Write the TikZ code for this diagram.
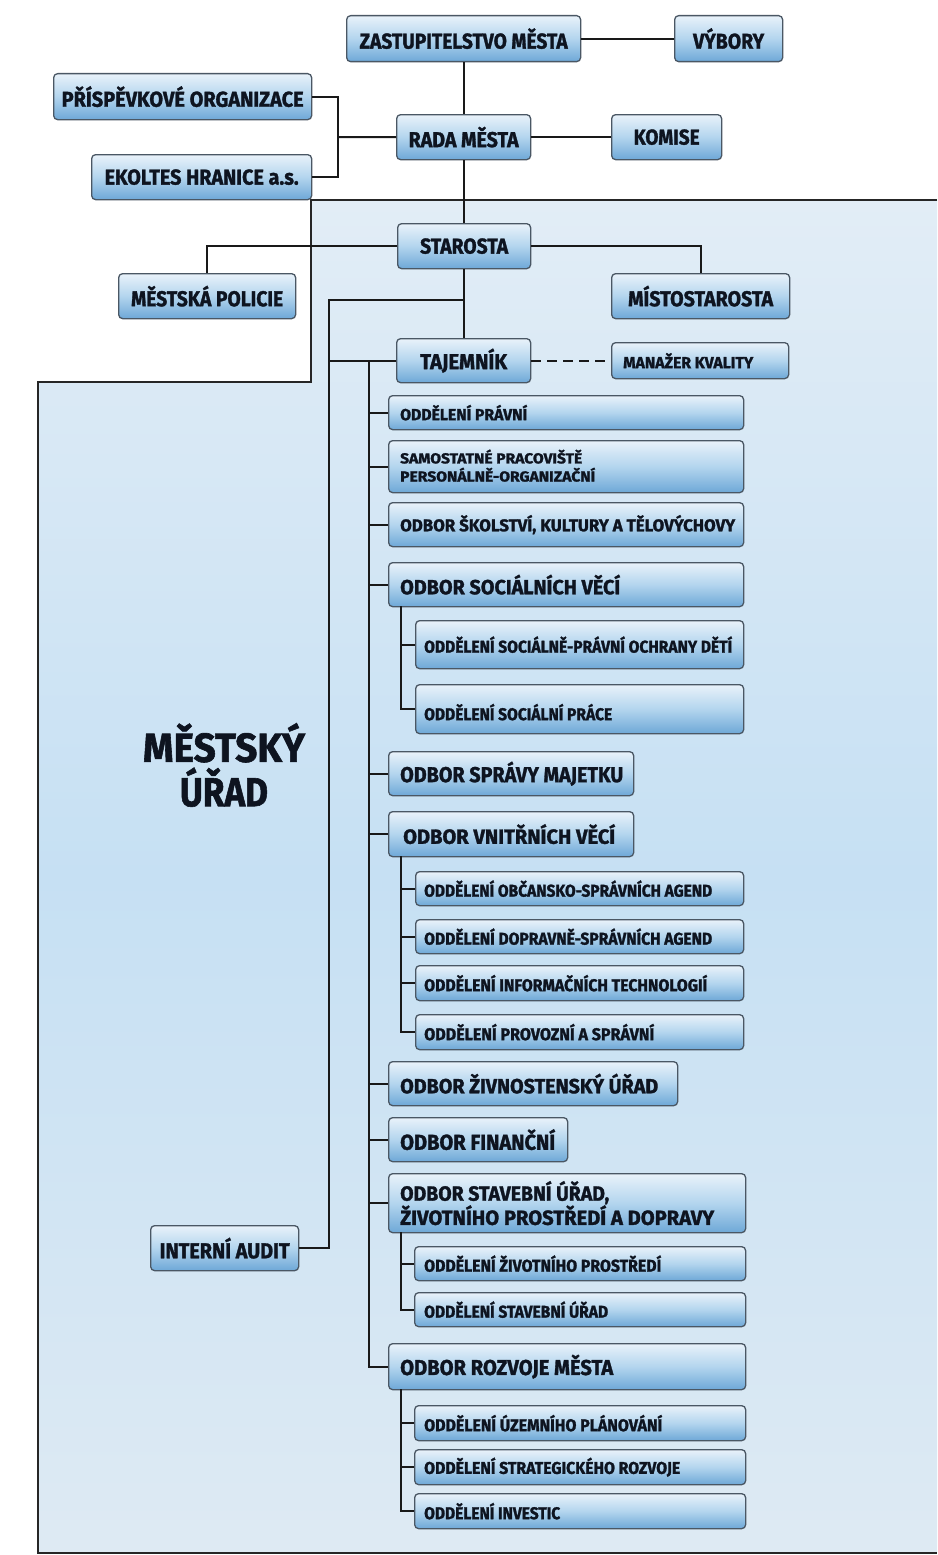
\documentclass[tikz,border=0pt]{standalone}
\usepackage{fontspec}
\usepackage{graphicx}
\setmainfont{Fira Sans}[BoldFeatures={FakeBold=1.5}]
\definecolor{boxline}{HTML}{4A5764}
\definecolor{boxtop}{HTML}{E9F2FA}
\definecolor{boxmid}{HTML}{B3D5EE}
\definecolor{boxbot}{HTML}{6EA8D7}
\definecolor{txtc}{HTML}{0E1420}
\definecolor{bgA}{HTML}{E2EDF6}
\definecolor{bgB}{HTML}{C6E0F3}
\definecolor{bgC}{HTML}{DEEAF3}
\newcommand{\lbl}[3]{\resizebox{#1pt}{\height}{\fontsize{#2}{#2}\selectfont\bfseries #3}}
\newcommand{\bx}[5]{\node[box, minimum width={(#4-#2)*1pt}, minimum height={(#5-#3)*1pt}] (#1) at (#2,#3) {};}
\begin{document}
\begin{tikzpicture}[x=1pt,y=-1pt,
  box/.style={draw=boxline, line width=1.3pt, rounded corners=4pt, top color=boxtop, bottom color=boxbot, middle color=boxmid, inner sep=0pt, anchor=north west},
  txt/.style={inner sep=0pt, text=txtc, align=left},
  conn/.style={draw=black!90, line width=2pt},
  border/.style={draw=black!85, line width=2pt}]
\useasboundingbox (0,0) rectangle (937,1555);
\fill[white] (0,0) rectangle (937,1555);
% office region
\shade[top color=bgA, bottom color=bgC, middle color=bgB] (937,200) -- (311,200) -- (311,382) -- (38,382) -- (38,1553) -- (937,1553) -- cycle;
\draw[border] (937,200) -- (311,200) -- (311,382) -- (38,382) -- (38,1553) -- (937,1553);

% top boxes
\bx{zast}{346}{15}{580}{61}
\node[txt] (zast-t) at (zast.center) {\lbl{208}{21.5}{ZASTUPITELSTVO MĚSTA}};
\bx{vyb}{674}{15}{782}{61}
\node[txt] (vyb-t) at (vyb.center) {\lbl{71}{21.5}{VÝBORY}};
\bx{prisp}{53}{73}{311}{119}
\node[txt] (prisp-t) at (prisp.center) {\lbl{242}{21.5}{PŘÍSPĚVKOVÉ ORGANIZACE}};
\bx{rada}{396}{114}{530}{159}
\node[txt] (rada-t) at (rada.center) {\lbl{110}{21.5}{RADA MĚSTA}};
\bx{kom}{611}{114}{721}{159}
\node[txt] (kom-t) at (kom.center) {\lbl{66}{21.5}{KOMISE}};
\bx{ekol}{91}{154}{311}{199}
\node[txt] (ekol-t) at (ekol.center) {\lbl{194}{21.5}{EKOLTES HRANICE a.s.}};
\bx{star}{397}{223}{530}{268}
\node[txt] (star-t) at (star.center) {\lbl{88}{21.5}{STAROSTA}};
\bx{pol}{118}{273}{295}{318}
\node[txt] (pol-t) at (pol.center) {\lbl{152}{21.5}{MĚSTSKÁ POLICIE}};
\bx{mist}{611}{273}{789}{318}
\node[txt] (mist-t) at (mist.center) {\lbl{145}{21.5}{MÍSTOSTAROSTA}};
\bx{taj}{396}{338}{530}{382}
\node[txt] (taj-t) at (taj.center) {\lbl{87}{21.5}{TAJEMNÍK}};
\bx{mk}{611}{342}{788}{378}
\node[txt, anchor=west] (mk-t) at ([xshift=12pt]mk.west) {\lbl{130}{16}{MANAŽER KVALITY}};

% departments
\bx{prav}{388}{395}{743}{429}
\node[txt, anchor=west] (prav-t) at ([xshift=12pt]prav.west) {\lbl{127}{16}{ODDĚLENÍ PRÁVNÍ}};
\bx{samo}{388}{440}{743}{492}
\node[txt, anchor=west] (samo-t) at ([xshift=12pt,yshift=1pt]samo.west) {\lbl{182}{14.5}{SAMOSTATNÉ PRACOVIŠTĚ}\\[3pt]\lbl{195}{14.5}{PERSONÁLNĚ-ORGANIZAČNÍ}};
\bx{skol}{388}{502}{743}{546}
\node[txt, anchor=west] (skol-t) at ([xshift=12pt]skol.west) {\lbl{335}{17}{ODBOR ŠKOLSTVÍ, KULTURY A TĚLOVÝCHOVY}};
\bx{soc}{388}{562}{743}{606}
\node[txt, anchor=west] (soc-t) at ([xshift=12pt]soc.west) {\lbl{220}{20.5}{ODBOR SOCIÁLNÍCH VĚCÍ}};
\bx{socpo}{415}{620}{743}{668}
\node[txt, anchor=west] (socpo-t) at ([xshift=9pt]socpo.west) {\lbl{308}{17}{ODDĚLENÍ SOCIÁLNĚ-PRÁVNÍ OCHRANY DĚTÍ}};
\bx{socpr}{415}{684}{743}{733}
\node[txt, anchor=west] (socpr-t) at ([xshift=9pt,yshift=-3pt]socpr.west) {\lbl{188}{17}{ODDĚLENÍ SOCIÁLNÍ PRÁCE}};
\bx{maj}{388}{751}{633}{795}
\node[txt, anchor=west] (maj-t) at ([xshift=12pt]maj.west) {\lbl{223}{21.5}{ODBOR SPRÁVY MAJETKU}};
\bx{vni}{388}{811}{633}{856}
\node[txt, anchor=west] (vni-t) at ([xshift=15pt]vni.west) {\lbl{212}{20.5}{ODBOR VNITŘNÍCH VĚCÍ}};
\bx{obc}{415}{871}{743}{905}
\node[txt, anchor=west] (obc-t) at ([xshift=9pt]obc.west) {\lbl{288}{17}{ODDĚLENÍ OBČANSKO-SPRÁVNÍCH AGEND}};
\bx{dop}{415}{919}{743}{953}
\node[txt, anchor=west] (dop-t) at ([xshift=9pt]dop.west) {\lbl{288}{17}{ODDĚLENÍ DOPRAVNĚ-SPRÁVNÍCH AGEND}};
\bx{inf}{415}{965}{743}{1000}
\node[txt, anchor=west] (inf-t) at ([xshift=9pt]inf.west) {\lbl{283}{17}{ODDĚLENÍ INFORMAČNÍCH TECHNOLOGIÍ}};
\bx{prov}{415}{1014}{743}{1049}
\node[txt, anchor=west] (prov-t) at ([xshift=9pt]prov.west) {\lbl{230}{17}{ODDĚLENÍ PROVOZNÍ A SPRÁVNÍ}};
\bx{ziv}{388}{1061}{677}{1105}
\node[txt, anchor=west] (ziv-t) at ([xshift=12pt]ziv.west) {\lbl{258}{20.5}{ODBOR ŽIVNOSTENSKÝ ÚŘAD}};
\bx{fin}{388}{1117}{567}{1161}
\node[txt, anchor=west] (fin-t) at ([xshift=12pt]fin.west) {\lbl{155}{21.5}{ODBOR FINANČNÍ}};
\bx{stav}{388}{1173}{745}{1232}
\node[txt, anchor=west] (stav-t) at ([xshift=12pt]stav.west) {\lbl{209}{20.5}{ODBOR STAVEBNÍ ÚŘAD,}\\[0pt]\lbl{314}{20.5}{ŽIVOTNÍHO PROSTŘEDÍ A DOPRAVY}};
\bx{zp}{414}{1246}{745}{1280}
\node[txt, anchor=west] (zp-t) at ([xshift=10pt]zp.west) {\lbl{237}{17}{ODDĚLENÍ ŽIVOTNÍHO PROSTŘEDÍ}};
\bx{su}{414}{1292}{745}{1326}
\node[txt, anchor=west] (su-t) at ([xshift=10pt]su.west) {\lbl{184}{17}{ODDĚLENÍ STAVEBNÍ ÚŘAD}};
\bx{roz}{388}{1343}{745}{1389}
\node[txt, anchor=west] (roz-t) at ([xshift=12pt]roz.west) {\lbl{213}{21.5}{ODBOR ROZVOJE MĚSTA}};
\bx{uz}{414}{1405}{745}{1440}
\node[txt, anchor=west] (uz-t) at ([xshift=10pt]uz.west) {\lbl{238}{17}{ODDĚLENÍ ÚZEMNÍHO PLÁNOVÁNÍ}};
\bx{strg}{414}{1449}{745}{1484}
\node[txt, anchor=west] (strg-t) at ([xshift=10pt]strg.west) {\lbl{256}{17}{ODDĚLENÍ STRATEGICKÉHO ROZVOJE}};
\bx{inv}{414}{1493}{745}{1528}
\node[txt, anchor=west] (inv-t) at ([xshift=10pt]inv.west) {\lbl{136}{17}{ODDĚLENÍ INVESTIC}};
\bx{audit}{150}{1225}{298}{1270}
\node[txt] (audit-t) at (audit.center) {\lbl{130}{21.5}{INTERNÍ AUDIT}};

% big label
\node[txt, align=center] (mu) at (224,765) {\lbl{162}{40.5}{MĚSTSKÝ}\\[4pt]\lbl{88}{40.5}{ÚŘAD}};

% connectors
\draw[conn] (zast.east) -- (vyb.west);
\draw[conn] (rada.north) -- (rada.north |- zast.south);
\draw[conn] (rada.east) -- (kom.west);
\coordinate (bk) at (338,137);
\draw[conn] (prisp.east) -| (bk) |- (ekol.east);
\draw[conn] (bk) -- (rada.west);
\draw[conn] (rada.south) -- (rada.south |- star.north);
\draw[conn] (star.west) -| (pol.north);
\draw[conn] (star.east) -| (mist.north);
\draw[conn] (star.south -| taj.north) -- (taj.north);
\coordinate (j1) at (463,300);
\coordinate (j2) at (329,300);
\draw[conn] (j1) -- (j2) |- (audit.east);
\draw[conn] (taj.west) -- (taj.west -| j2);
\draw[conn, dash pattern=on 10pt off 6pt] (taj.east) -- (mk.west);
\coordinate (sp) at (369,360);
\foreach \b in {prav,samo,skol,soc,maj,vni,ziv,fin,stav,roz}{\draw[conn] (sp) |- (\b.west);}
\coordinate (s1) at (401,606);
\draw[conn] (s1) |- (socpo.west);
\draw[conn] (s1) |- (socpr.west);
\coordinate (s2) at (401,856);
\foreach \b in {obc,dop,inf,prov}{\draw[conn] (s2) |- (\b.west);}
\coordinate (s3) at (401,1232);
\draw[conn] (s3) |- (zp.west);
\draw[conn] (s3) |- (su.west);
\coordinate (s4) at (401,1389);
\foreach \b in {uz,strg,inv}{\draw[conn] (s4) |- (\b.west);}
\end{tikzpicture}
\end{document}
